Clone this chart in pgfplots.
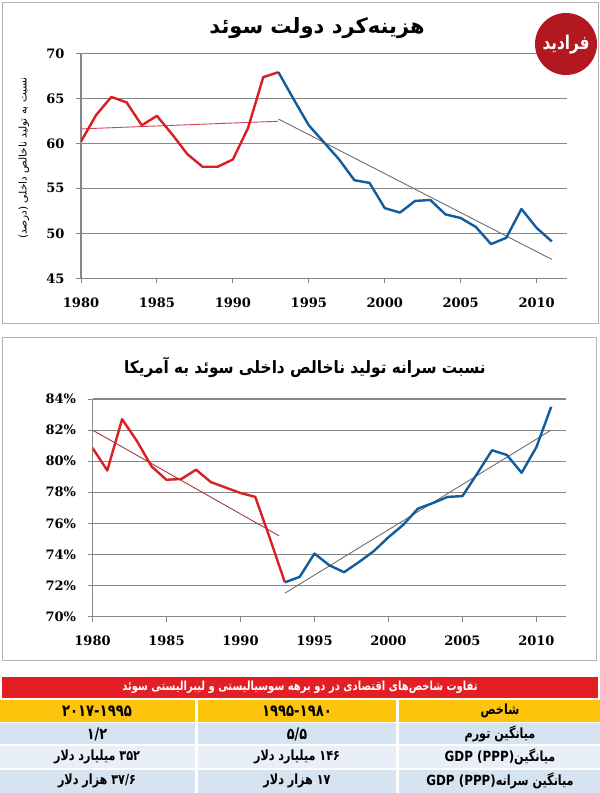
\documentclass[border=0pt]{standalone}
\usepackage{fontspec}
\usepackage{pgfplots}
\pgfplotsset{compat=1.18}
\TeXXeTstate=1
\newfontfamily\fa[Script=Arabic]{DejaVu Sans}
\newfontfamily\fat[Script=Arabic, FakeStretch=0.9]{DejaVu Sans}
\newfontfamily\fac[Script=Arabic, FakeStretch=0.8]{DejaVu Sans}
\newfontfamily\la{DejaVu Sans}
\newfontfamily\lac[FakeStretch=0.85]{DejaVu Sans}
\newfontfamily\tk{DejaVu Serif}
\definecolor{lred}{RGB}{218,30,36}
\definecolor{lblue}{RGB}{16,92,158}
\definecolor{gridc}{RGB}{135,135,135}
\definecolor{hdrred}{RGB}{227,30,36}
\definecolor{yel}{RGB}{252,196,10}
\definecolor{rowa}{RGB}{214,228,241}
\definecolor{rowb}{RGB}{232,239,247}
\definecolor{logoc}{RGB}{178,24,32}
\definecolor{trendr}{RGB}{205,70,90}
\definecolor{trendb}{RGB}{160,60,60}
\definecolor{trendg}{RGB}{110,110,110}
\pgfplotsset{swed/.style={scale only axis, xmin=1980, xmax=2012,
  axis x line*=bottom, axis y line*=left, ymajorgrids,
  grid style={gridc, line width=1.1bp},
  axis line style={gridc, line width=1.1bp},
  tick style={gridc, line width=1bp}, major tick length=5bp, tick align=outside,
  xtick={1980,1985,...,2010}, xticklabels={1980,1985,1990,1995,2000,2005,2010},
  ticklabel style={font=\tk\bfseries\fontsize{13bp}{15bp}\selectfont, text=black},
  xticklabel style={yshift=-11bp}, yticklabel style={xshift=-8bp},
  line join=round}}
\begin{document}
\begin{tikzpicture}
\useasboundingbox (0,0) rectangle (600bp,-793bp);
\fill[white] (0,0) rectangle (600bp,-793bp);
% frames
\draw[gray!60, line width=0.8bp] (2bp,-2bp) rectangle (598bp,-323bp);
\draw[gray!60, line width=0.8bp] (2bp,-337bp) rectangle (596bp,-660bp);
% panel 1
\begin{axis}[swed, at={(81bp,-278.3bp)}, anchor=south west, width=486bp, height=225bp,
  ymin=45, ymax=70, ytick={45,50,...,70}, yticklabels={45,50,55,60,65,70}]
\addplot[trendr, line width=0.9bp] coordinates {(1980,61.6) (1993,62.45)};
\addplot[trendg, line width=0.9bp] coordinates {(1993,62.7) (2011,47.1)};
\addplot[lred, line width=2.4bp] coordinates {(1980,60.2)(1981,63.15)(1982,65.15)(1983,64.55)(1984,62.0)(1985,63.05)(1986,61.0)(1987,58.8)(1988,57.4)(1989,57.4)(1990,58.2)(1991,61.7)(1992,67.35)(1993,67.9)};
\addplot[lblue, line width=2.4bp] coordinates {(1993,67.9)(1994,64.9)(1995,62.0)(1996,60.1)(1997,58.2)(1998,55.9)(1999,55.6)(2000,52.8)(2001,52.3)(2002,53.6)(2003,53.7)(2004,52.1)(2005,51.7)(2006,50.7)(2007,48.8)(2008,49.5)(2009,52.7)(2010,50.6)(2011,49.1)};
\end{axis}
% panel 2
\begin{axis}[swed, at={(92.5bp,-616.5bp)}, anchor=south west, width=473.5bp, height=217.5bp,
  ymin=70, ymax=84, ytick={70,72,...,84}, yticklabels={70\%,72\%,74\%,76\%,78\%,80\%,82\%,84\%}]
\addplot[trendb, line width=0.9bp] coordinates {(1980,82.0) (1992.6,75.2)};
\addplot[trendg, line width=0.9bp] coordinates {(1993,71.5) (2011,82.0)};
\addplot[lred, line width=2.4bp] coordinates {(1980,80.85)(1981,79.4)(1982,82.7)(1983,81.3)(1984,79.65)(1985,78.8)(1986,78.85)(1987,79.45)(1988,78.65)(1989,78.3)(1990,77.95)(1991,77.7)(1992,75.0)(1993,72.2)};
\addplot[lblue, line width=2.4bp] coordinates {(1993,72.2)(1994,72.55)(1995,74.05)(1996,73.3)(1997,72.85)(1998,73.5)(1999,74.2)(2000,75.1)(2001,75.9)(2002,76.95)(2003,77.3)(2004,77.7)(2005,77.75)(2006,79.2)(2007,80.7)(2008,80.4)(2009,79.25)(2010,80.9)(2011,83.5)};
\end{axis}
% titles
\node[font=\fa\bfseries\fontsize{21bp}{24bp}\selectfont] at (317bp,-28bp) {\beginR هزینه‌کرد دولت سوئد\endR};
\node[font=\fat\bfseries\fontsize{17bp}{22bp}\selectfont] at (305bp,-367bp) {\beginR نسبت سرانه تولید ناخالص داخلی سوئد به آمریکا\endR};
\node[rotate=90, font=\fa\fontsize{10.5bp}{12bp}\selectfont] at (24bp,-158bp) {\beginR نسبت به تولید ناخالص داخلی (درصد)\endR};
% logo
\fill[logoc] (566bp,-44bp) circle (31bp);
\node[text=white, font=\fac\bfseries\fontsize{19bp}{20bp}\selectfont, inner sep=0pt] at (566bp,-45bp) {\beginR فرادید\endR};
% table
\fill[hdrred] (2bp,-677bp) rectangle (598bp,-698bp);
\node[text=white, font=\fac\bfseries\fontsize{12.5bp}{15bp}\selectfont] at (300bp,-687.5bp) {\beginR تفاوت شاخص‌های اقتصادی در دو برهه سوسیالیستی و لیبرالیستی سوئد\endR};
\fill[yel] (0bp,-700bp) rectangle (195bp,-721.7bp);
\fill[yel] (198bp,-700bp) rectangle (396bp,-721.7bp);
\fill[yel] (399bp,-700bp) rectangle (600bp,-721.7bp);
\fill[rowa] (0bp,-723.3bp) rectangle (195bp,-744.3bp);
\fill[rowa] (198bp,-723.3bp) rectangle (396bp,-744.3bp);
\fill[rowa] (399bp,-723.3bp) rectangle (600bp,-744.3bp);
\fill[rowb] (0bp,-746bp) rectangle (195bp,-768.3bp);
\fill[rowb] (198bp,-746bp) rectangle (396bp,-768.3bp);
\fill[rowb] (399bp,-746bp) rectangle (600bp,-768.3bp);
\fill[rowa] (0bp,-770bp) rectangle (195bp,-793bp);
\fill[rowa] (198bp,-770bp) rectangle (396bp,-793bp);
\fill[rowa] (399bp,-770bp) rectangle (600bp,-793bp);
\begin{scope}[every node/.style={font=\fac\bfseries\fontsize{14bp}{16bp}\selectfont, text=black}]
\node[font=\fac\bfseries\fontsize{16.5bp}{18bp}\selectfont] at (97bp,-711bp) {۲۰۱۷-۱۹۹۵};
\node[font=\fac\bfseries\fontsize{16.5bp}{18bp}\selectfont] at (297bp,-711bp) {۱۹۹۵-۱۹۸۰};
\node at (500bp,-711bp) {\beginR شاخص\endR};
\node[font=\fac\bfseries\fontsize{16bp}{18bp}\selectfont] at (97bp,-734bp) {۱/۲};
\node[font=\fac\bfseries\fontsize{16bp}{18bp}\selectfont] at (297bp,-734bp) {۵/۵};
\node at (500bp,-734bp) {\beginR میانگین تورم\endR};
\node at (97bp,-757bp) {\beginR\beginL ۳۵۲\endL{} میلیارد دلار\endR};
\node at (297bp,-757bp) {\beginR\beginL ۱۴۶\endL{} میلیارد دلار\endR};
\node at (500bp,-757bp) {{\lac\bfseries GDP (PPP)}\beginR میانگین\endR};
\node at (97bp,-781bp) {\beginR\beginL ۳۷/۶\endL{} هزار دلار\endR};
\node at (297bp,-781bp) {\beginR\beginL ۱۷\endL{} هزار دلار\endR};
\node at (500bp,-781bp) {{\lac\bfseries GDP (PPP)}\beginR میانگین سرانه\endR};
\end{scope}
\end{tikzpicture}
\end{document}
